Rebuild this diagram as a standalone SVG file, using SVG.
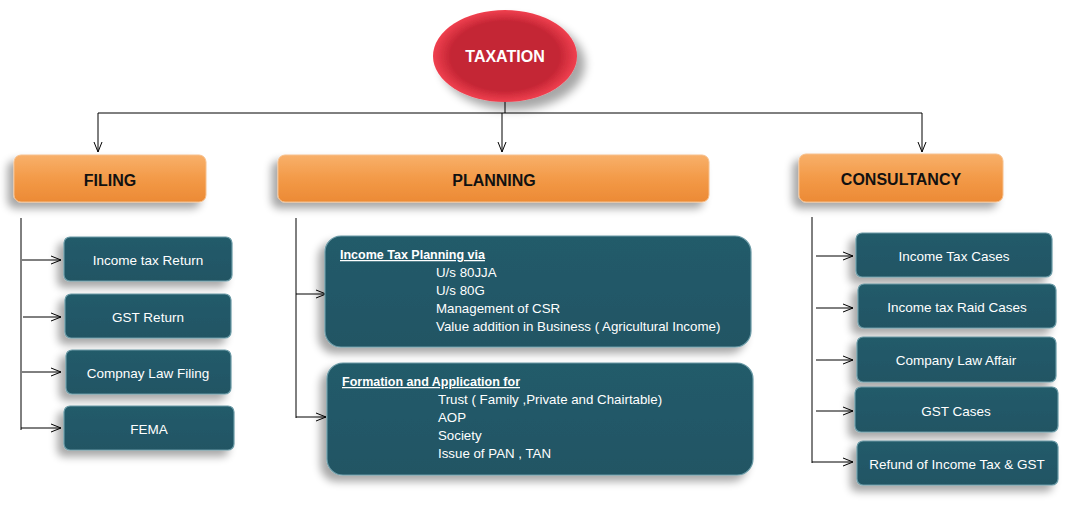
<svg xmlns="http://www.w3.org/2000/svg" width="1075" height="518" viewBox="0 0 1075 518">
<defs>
<style>
.hd{font-family:"Liberation Sans",Arial,sans-serif;font-weight:bold;font-size:16px;fill:#111;text-anchor:middle}
.it{font-family:"Liberation Sans",Arial,sans-serif;font-size:13.5px;fill:#fff;text-anchor:middle}
.tx{font-family:"Liberation Sans",Arial,sans-serif;font-size:13.3px;fill:#fff}
.tb{font-family:"Liberation Sans",Arial,sans-serif;font-size:12.5px;fill:#fff;font-weight:bold;text-decoration:underline}
.teal{fill:url(#tg);stroke:#6a9aa6;stroke-width:1.2;filter:url(#sh)}
.org{fill:url(#og);stroke:#f6c08e;stroke-width:1;filter:url(#sh)}
.ln{stroke:#000;stroke-width:1;fill:none}
.ar{stroke:#000;stroke-width:1;fill:none;marker-end:url(#ah)}
</style>
<marker id="ah" viewBox="0 0 10 10" refX="10" refY="5" markerWidth="10" markerHeight="10" markerUnits="userSpaceOnUse" orient="auto">
<polyline points="0,1 10,5 0,9" fill="none" stroke="#000" stroke-width="1"/>
</marker>
<filter id="sh" x="-20%" y="-30%" width="150%" height="180%">
<feGaussianBlur in="SourceAlpha" stdDeviation="4"/>
<feOffset dx="-6" dy="6" result="b"/>
<feComponentTransfer><feFuncA type="linear" slope="0.35"/></feComponentTransfer>
<feMerge><feMergeNode/><feMergeNode in="SourceGraphic"/></feMerge>
</filter>
<filter id="sh2" x="-30%" y="-30%" width="170%" height="170%">
<feGaussianBlur in="SourceAlpha" stdDeviation="5"/>
<feOffset dx="8" dy="8" result="b"/>
<feComponentTransfer><feFuncA type="linear" slope="0.35"/></feComponentTransfer>
<feMerge><feMergeNode/><feMergeNode in="SourceGraphic"/></feMerge>
</filter>
<linearGradient id="og" x1="0" y1="0" x2="0" y2="1">
<stop offset="0" stop-color="#f8b06a"/>
<stop offset="0.5" stop-color="#f39a48"/>
<stop offset="1" stop-color="#ec8a35"/>
</linearGradient>
<linearGradient id="tg" x1="0" y1="0" x2="0" y2="1">
<stop offset="0" stop-color="#245b6a"/>
<stop offset="1" stop-color="#215564"/>
</linearGradient>
<radialGradient id="rg" cx="0.5" cy="0.5" r="0.5">
<stop offset="0.75" stop-color="#c42534"/>
<stop offset="1" stop-color="#f0404f"/>
</radialGradient>
</defs>
<rect width="1075" height="518" fill="#fff"/>

<g id="connectors">
<polyline class="ln" points="505,102 505,113"/>
<polyline class="ln" points="98,113 922,113"/>
<polyline class="ar" points="98,113 98,152"/>
<polyline class="ar" points="502,113 502,152"/>
<polyline class="ar" points="922,113 922,152"/>
<polyline class="ln" points="21,218 21,430"/>
<polyline class="ar" points="22,260 61,260"/>
<polyline class="ar" points="23,317 61,317"/>
<polyline class="ar" points="22,372 61,372"/>
<polyline class="ar" points="21,428 61,428"/>
<polyline class="ln" points="296,218 296,418"/>
<polyline class="ar" points="296,294 326,294"/>
<polyline class="ar" points="296,417 326,417"/>
<polyline class="ln" points="812,217 812,463"/>
<polyline class="ar" points="816,256 853,256"/>
<polyline class="ar" points="816,308 853,308"/>
<polyline class="ar" points="816,360 853,360"/>
<polyline class="ar" points="816,411 853,411"/>
<polyline class="ar" points="812,462 853,462"/>
</g>

<g id="taxation">
<ellipse cx="505" cy="56" rx="72" ry="46" fill="url(#rg)" filter="url(#sh2)"/>
<text x="505" y="62" class="hd" style="fill:#fff">TAXATION</text>
</g>

<g id="filing">
<rect x="14" y="155" width="192" height="47" rx="7" class="org"/>
<text x="110" y="186" class="hd">FILING</text>
</g>
<g id="planning">
<rect x="278" y="155" width="431" height="47" rx="7" class="org"/>
<text x="494" y="186" class="hd">PLANNING</text>
</g>
<g id="consultancy">
<rect x="799" y="154" width="204" height="48" rx="7" class="org"/>
<text x="901" y="185" class="hd">CONSULTANCY</text>
</g>

<g id="itr">
<rect x="64" y="237" width="168" height="44" rx="6" class="teal"/>
<text x="148" y="265" class="it">Income tax Return</text>
</g>
<g id="gstr">
<rect x="65" y="294" width="166" height="44" rx="6" class="teal"/>
<text x="148" y="322" class="it">GST Return</text>
</g>
<g id="clf">
<rect x="66" y="350" width="165" height="44" rx="6" class="teal"/>
<text x="148" y="378" class="it">Compnay Law Filing</text>
</g>
<g id="fema">
<rect x="64" y="406" width="170" height="44" rx="6" class="teal"/>
<text x="149" y="434" class="it">FEMA</text>
</g>

<g id="itp">
<rect x="325" y="236" width="426" height="111" rx="16" class="teal"/>
<text x="340" y="259" class="tb">Income Tax Planning via</text>
<text x="436" y="277" class="tx">U/s  80JJA</text>
<text x="436" y="295" class="tx">U/s 80G</text>
<text x="436" y="313" class="tx">Management of CSR</text>
<text x="436" y="331" class="tx">Value addition in Business ( Agricultural Income)</text>
</g>
<g id="formation">
<rect x="327" y="363" width="426" height="112" rx="16" class="teal"/>
<text x="342" y="386" class="tb">Formation and Application for</text>
<text x="438" y="404" class="tx">Trust ( Family ,Private and Chairtable)</text>
<text x="438" y="422" class="tx">AOP</text>
<text x="438" y="440" class="tx">Society</text>
<text x="438" y="458" class="tx">Issue of PAN , TAN</text>
</g>

<g id="itc">
<rect x="856" y="233" width="196" height="44" rx="6" class="teal"/>
<text x="954" y="261" class="it">Income Tax Cases</text>
</g>
<g id="raid">
<rect x="858" y="284" width="198" height="44" rx="6" class="teal"/>
<text x="957" y="312" class="it">Income tax Raid Cases</text>
</g>
<g id="cla">
<rect x="857" y="337" width="199" height="45" rx="6" class="teal"/>
<text x="956" y="365" class="it">Company Law Affair</text>
</g>
<g id="gstc">
<rect x="855" y="387" width="203" height="45" rx="6" class="teal"/>
<text x="956" y="416" class="it">GST Cases</text>
</g>
<g id="refund">
<rect x="857" y="441" width="201" height="44" rx="6" class="teal"/>
<text x="957" y="469" class="it">Refund of Income Tax &amp; GST</text>
</g>
</svg>
